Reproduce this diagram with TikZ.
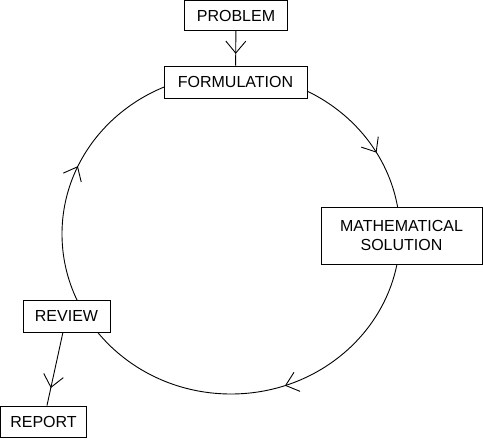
\documentclass[tikz,border=0pt]{standalone}
\usepackage{fontspec}
\setmainfont{Liberation Sans}
\usetikzlibrary{arrows.meta,decorations.markings}

\begin{document}
\begin{tikzpicture}[x=1pt, y=1pt, line width=0.9pt, >={Straight Barb[length=12pt, width=20pt]},
	box node/.style={rectangle, draw, fill=white, inner sep=0pt, align=center, font=\fontsize{16}{19}\selectfont},
	mid arrow/.style={postaction={decorate}, decoration={markings, mark=at position #1 with {\arrow{>}}}}]
	\useasboundingbox (0,0) rectangle (483,440);

	% the cycle
	\coordinate (hub) at (231,206);
	\draw[postaction={decorate}, decoration={markings,
			mark=at position 0.167 with {\arrow{>}},
			mark=at position 0.447 with {\arrow{>}},
			mark=at position 0.818 with {\arrow{>}}}]
		(hub) ++(0,160) arc[start angle=90, end angle=-270, x radius=169, y radius=160];

	\node[box node, minimum width=103pt, minimum height=30pt] (problem) at (236,424.5) {PROBLEM};
	\node[box node, minimum width=143pt, minimum height=32pt] (formulation) at (235.5,358) {FORMULATION};
	\node[box node, minimum width=161pt, minimum height=57pt] (solution) at (401.5,204.5) {MATHEMATICAL\\SOLUTION};
	\node[box node, minimum width=87pt, minimum height=32pt] (review) at (66.5,124) {REVIEW};
	\node[box node, minimum width=86pt, minimum height=31pt] (report) at (43.5,18.5) {REPORT};

	\draw[mid arrow=0.66] (problem) -- (formulation);
	\draw[mid arrow=0.76] (review) -- (report);
\end{tikzpicture}
\end{document}
